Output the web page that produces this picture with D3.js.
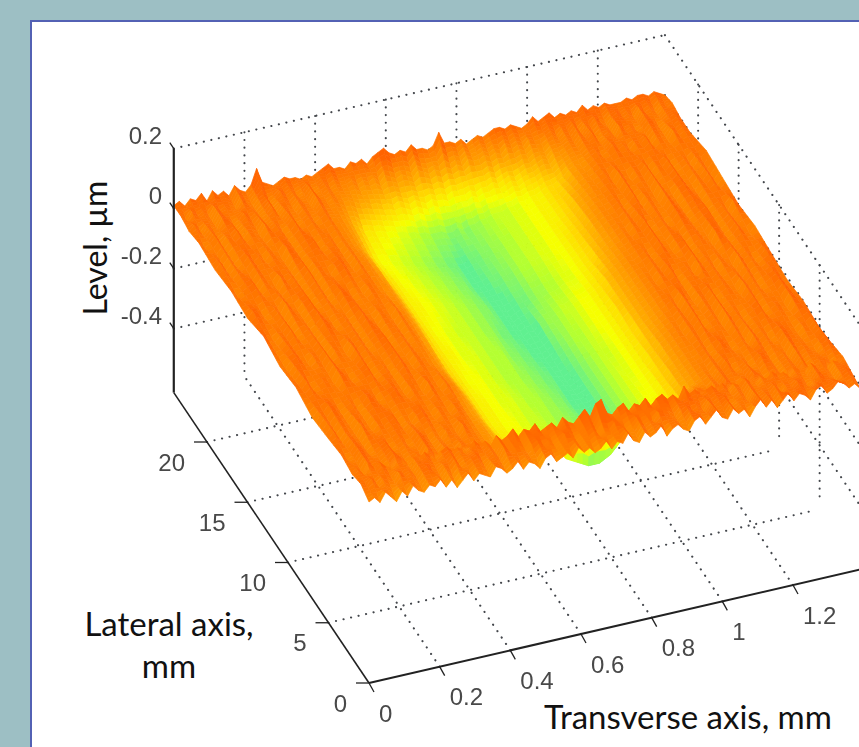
<!DOCTYPE html>
<html><head><meta charset="utf-8">
<script src="https://cdn.jsdelivr.net/npm/d3@7"></script>
<style>html,body{margin:0;padding:0;background:#9dbfc4;overflow:hidden}svg{display:block}</style>
</head><body><svg id="c" width="859" height="747"></svg>
<script>
const transverseTicks = [0, 0.2, 0.4, 0.6, 0.8, 1, 1.2];
const lateralTicks = [0, 5, 10, 15, 20];
const levelTicks = [0.2, 0, -0.2, -0.4];
const transverseMax = 1.39, lateralMax = 24.1, levelMin = -0.613, levelMax = 0.2;
const columnStep = 0.01562;
// lateral position of each measured profile, mm (back to front)
const profileLateral = [24.1,23.2,22.2,21,19,17,15,13,11,9,7,5,3.4,2.2,2.0,1.0,0];
// level of the surface, hundredths of a micrometre, 90 transverse samples per profile
const p00=[1,2,0,2,1,3,0,3,1,2,0,3,1,0,2,7,2,1,0,1,2,1,1,0,1,0,1,2,3,1,1,0,2,1,2,0,2,3,4,2,1,2,1,3,1,1,0,1,5,1,1,0,1,-1,0,1,0,1,2,2,1,2,1,0,1,3,1,2,3,1,2,1,2,1,3,1,2,1,2,1,1,1,2,1,2,2,1,2,1,0];
const p01=[1,-1,2,0,1,-1,2,0,1,0,-1,2,0,-1,1,2,-1,0,2,0,1,-1,0,2,-1,0,1,-1,0,-1,-1,0,-2,-1,-2,-1,-3,-1,-2,-3,-2,-3,-4,-2,-3,-4,-3,-4,-3,-4,-3,-4,-2,-3,-3,-2,-3,-2,-3,-1,-2,-1,-2,0,-1,-1,0,1,-1,1,0,2,-1,1,0,2,0,-1,1,2,0,1,-1,2,0,1,-1,1,0,1];
const p02=[0,2,-1,1,0,-1,2,1,-1,0,2,0,1,-1,0,2,-1,1,0,-1,1,0,-1,2,0,-1,0,-1,-2,-2,-3,-4,-4,-5,-5,-6,-6,-7,-6,-7,-8,-7,-8,-9,-8,-9,-9,-10,-9,-9,-9,-8,-9,-8,-8,-7,-8,-7,-6,-7,-6,-5,-5,-4,-3,-4,-2,-2,-1,0,-1,1,0,2,-1,0,1,-1,2,0,1,-1,0,2,1,-1,0,1,2,0];
const p03=[1,-1,0,2,-1,1,0,2,-1,1,0,-1,2,0,1,-1,0,2,-1,0,1,-1,0,1,-1,-1,-2,-3,-5,-6,-8,-8,-9,-9,-10,-10,-11,-11,-12,-12,-13,-13,-14,-14,-14,-15,-15,-14,-15,-14,-14,-13,-13,-12,-12,-12,-11,-11,-10,-10,-9,-9,-8,-7,-7,-6,-5,-3,-2,-2,-1,0,1,-1,0,2,0,1,-1,1,0,2,-1,1,0,-1,2,0,1,0];
const p04=[0,2,-1,1,-1,0,2,0,1,-1,1,0,-1,2,1,-1,0,1,2,-1,0,1,-1,0,-1,-2,-3,-5,-7,-9,-10,-10,-11,-11,-12,-12,-13,-13,-14,-14,-15,-15,-16,-16,-17,-17,-16,-16,-15,-15,-14,-14,-13,-13,-12,-12,-11,-11,-10,-10,-9,-9,-8,-7,-6,-4,-3,-2,-1,-1,0,1,-1,2,0,-1,1,0,2,-1,1,0,2,-1,0,1,-1,1,0,2];
const p05=[1,-1,0,1,2,-1,1,0,-1,2,0,1,-1,0,2,-1,1,0,-1,1,2,0,-1,1,-1,-1,-3,-4,-7,-8,-9,-10,-10,-11,-11,-12,-12,-13,-13,-14,-14,-15,-15,-16,-17,-17,-17,-16,-16,-15,-15,-14,-13,-13,-12,-12,-11,-11,-10,-10,-9,-8,-7,-6,-5,-3,-2,-1,-1,0,1,-1,0,2,-1,1,0,-1,2,0,-1,1,2,0,-1,1,0,2,-1,1];
const p06=[0,2,1,-1,0,1,-1,2,0,-1,1,2,-1,0,1,-1,0,2,1,-1,0,-1,1,0,-1,-2,-2,-4,-6,-8,-9,-9,-10,-10,-11,-11,-12,-12,-13,-13,-14,-14,-15,-15,-16,-17,-17,-18,-17,-16,-16,-15,-14,-14,-13,-13,-12,-11,-11,-10,-9,-8,-7,-5,-4,-3,-2,-1,0,-1,1,0,2,-1,0,1,-1,0,2,1,-1,0,1,2,-1,0,1,-1,2,0];
const p07=[2,0,-1,1,0,2,-1,0,1,-1,0,2,1,-1,0,1,-1,0,2,0,-1,1,0,-1,1,-1,-2,-4,-6,-8,-9,-10,-10,-11,-11,-12,-12,-12,-13,-13,-14,-14,-15,-16,-16,-17,-17,-18,-17,-17,-15,-14,-14,-13,-12,-12,-11,-10,-10,-9,-8,-7,-5,-4,-3,-2,-1,-1,0,1,-1,0,2,0,-1,1,2,-1,0,1,0,-1,2,1,-1,0,2,0,-1,1];
const p08=[0,-1,1,2,0,-1,1,0,2,-1,1,0,-1,2,0,1,-1,0,1,2,-1,0,1,-1,0,-1,-3,-4,-7,-8,-9,-9,-10,-11,-11,-11,-12,-12,-13,-13,-13,-14,-15,-15,-16,-16,-17,-17,-18,-17,-16,-15,-14,-13,-13,-12,-11,-10,-10,-9,-8,-6,-5,-4,-3,-2,-1,0,-1,1,0,2,-1,0,1,-1,2,0,1,-1,1,0,-1,2,0,1,-1,0,2,0];
const p09=[1,0,2,-1,0,1,0,-1,2,1,-1,0,1,2,-1,0,1,-1,0,2,0,-1,1,0,-1,-2,-3,-5,-7,-8,-9,-10,-10,-10,-11,-11,-12,-12,-13,-13,-13,-14,-14,-15,-15,-16,-16,-17,-17,-18,-17,-16,-15,-14,-13,-12,-12,-11,-10,-9,-8,-7,-5,-4,-3,-2,-1,0,1,-1,2,0,-1,1,0,2,-1,0,1,0,-1,2,0,1,-1,0,1,2,0,-1];
const p10=[-1,1,0,2,1,-1,0,1,-1,0,2,1,-1,0,1,2,0,-1,1,0,-1,2,0,-1,1,-1,-2,-4,-6,-8,-9,-9,-10,-10,-11,-11,-11,-12,-12,-13,-13,-13,-14,-14,-15,-15,-16,-17,-17,-17,-17,-16,-15,-14,-13,-12,-11,-11,-10,-9,-8,-6,-5,-3,-2,-1,0,-1,1,0,2,-1,0,1,-1,2,0,1,-1,0,1,2,-1,0,1,0,-1,2,1,0];
const p11=[0,2,-1,1,0,-1,2,0,-1,1,0,1,2,-1,0,-1,1,2,0,-1,1,0,-1,1,0,-2,-3,-4,-6,-8,-9,-9,-10,-10,-10,-11,-11,-12,-12,-12,-13,-13,-14,-14,-14,-15,-15,-16,-16,-17,-16,-16,-15,-14,-13,-12,-11,-10,-10,-9,-7,-6,-4,-3,-2,-1,-1,0,1,-1,0,2,1,-1,0,1,-1,2,0,1,-1,0,2,1,0,-1,1,0,2,-1];
const p12=[1,-1,0,2,1,-1,0,1,2,-1,0,1,-1,0,2,1,-1,0,-1,1,0,-1,2,0,-1,-2,-2,-4,-5,-7,-8,-8,-9,-9,-9,-10,-10,-10,-11,-11,-11,-12,-12,-12,-13,-13,-13,-13,-13,-13,-13,-13,-12,-12,-12,-11,-10,-10,-9,-8,-7,-5,-4,-3,-2,-1,0,-1,1,0,2,-1,0,1,-1,0,2,1,-1,0,1,-1,2,0,1,0,-1,1,2,0];
const p13=[0,1,-1,2,0,1,-1,0,2,1,-1,0,1,-1,2,0,-1,1,0,-1,1,0,-1,0,-1,-2,-3,-3,-4,-5,-6,-6,-6,-7,-7,-7,-8,-9,-10,-12,-13,-14,-15,-16,-16,-16,-15,-14,-12,-10,-8,-7,-7,-6,-6,-5,-4,-4,-3,-2,-1,-1,0,1,0,-1,1,0,2,0,-1,1,0,2,1,-1,0,1,-1,0,1,0,2,-1,0,1,1,-1,0,1];
const p14=[0,1,-1,1,0,2,0,-1,1,0,-1,1,0,2,0,-1,1,2,0,1,-1,0,2,0,1,-1,2,0,1,3,0,2,1,3,0,1,2,0,3,1,0,2,4,1,5,6,1,0,2,3,0,2,1,3,0,2,3,1,2,0,4,1,2,0,1,2,0,2,-1,1,0,2,0,-1,1,0,2,0,1,-1,1,0,-1,2,0,1,-1,1,0,1];
const p15=[1,0,2,-1,1,0,-1,2,0,1,-1,1,2,0,-1,1,0,2,-1,0,1,2,-1,0,1,-1,2,0,1,0,-1,1,2,0,1,-1,0,2,1,-1,0,1,2,-1,1,0,2,1,-1,0,2,0,1,-1,2,1,0,-1,1,2,0,1,-1,2,0,1,2,-1,0,1,-1,2,0,1,0,2,-1,1,0,2,1,-1,0,2,1,0,-1,1,2,0];
const p16=[-1,0,-2,1,-1,-3,0,-2,1,-1,-2,0,-1,1,-2,0,-3,-1,1,-2,0,-1,-2,1,0,-2,-1,1,-2,0,-1,-3,0,1,-2,-1,0,-2,1,-1,0,-2,-1,1,-2,0,-1,2,-1,-2,1,-1,0,2,-2,0,1,-1,-2,1,2,-1,1,3,0,-1,2,0,1,-2,1,3,0,2,-1,1,3,0,2,1,-1,2,3,0,1,3,2,0,1,-1];
const profiles = [p00,p01,p02,p03,p04,p05,p06,p07,p08,p09,p10,p11,p12,p13,p14,p15,p16];
const colourStops = [2, 0, -2, -4, -7, -10, -13, -17];
const colourValues = ["#ff6400","#ff7a00","#ff9200","#ffa800","#ffd800","#f6ff00","#b4ff30","#60f090"];

const svg = d3.select("#c");
const defs = svg.append("defs");
defs.append("filter").attr("id","soft").attr("x",0).attr("y",0).attr("width",859).attr("height",747)
  .attr("filterUnits","userSpaceOnUse").append("feGaussianBlur").attr("stdDeviation",0.7);
defs.append("filter").attr("id","softText").attr("x",0).attr("y",0).attr("width",859).attr("height",747)
  .attr("filterUnits","userSpaceOnUse").append("feGaussianBlur").attr("stdDeviation",0.45);

const xH = d3.scaleLinear().domain([0,1.2]).range([369,793]);
const xV = d3.scaleLinear().domain([0,1.2]).range([0,-98]);
const yH = d3.scaleLinear().domain([0,20]).range([0,-162]);
const yV = d3.scaleLinear().domain([0,20]).range([0,-241]);
const zV = d3.scaleLinear().domain([levelMin,levelMax]).range([683,439]);
const P = (x,y,z) => [xH(x)+yH(y), xV(x)+yV(y)+zV(z)];
const colour = d3.scaleLinear().domain(colourStops).range(colourValues).clamp(true);

svg.append("rect").attr("x",31).attr("y",21).attr("width",840).attr("height",740)
  .attr("fill","#fff").attr("stroke","#5361b4").attr("stroke-width",2);

const line = d3.line();
const grid = svg.append("g").attr("fill","none").attr("stroke","#44474c").attr("stroke-width",2.1)
  .attr("stroke-linecap","round").attr("stroke-dasharray","0.1 7.6");
const gridLines = [];
lateralTicks.slice(1).forEach(y=>gridLines.push([P(0,y,levelMin),P(transverseMax-0.01,y,levelMin)]));
transverseTicks.slice(1).forEach(x=>gridLines.push([P(x,0,levelMin),P(x,lateralMax,levelMin)]));
transverseTicks.slice(1).forEach(x=>gridLines.push([P(x,lateralMax,levelMax),P(x,lateralMax,levelMin)]));
[levelMax,...levelTicks.slice(1)].forEach(z=>gridLines.push([P(0,lateralMax,z),P(transverseMax,lateralMax,z)]));
lateralTicks.slice(1).forEach(y=>gridLines.push([P(transverseMax,y,levelMax),P(transverseMax,y,levelMin+0.02)]));
levelTicks.forEach(z=>gridLines.push([P(transverseMax,lateralMax,z),P(transverseMax,0,z)]));
grid.selectAll("path").data(gridLines).join("path").attr("d",d=>line(d));

// surface: painted from the back profile to the front one
const quads = [];
const sv = 5;
for (let r=0;r<profiles.length-1;r++){
  for (let v=0;v<sv;v++){
    const t0=v/sv, t1=(v+1)/sv;
    for (let c=0;c<profiles[r].length-1;c++){
      const Z=(cc,t)=>d3.interpolateNumber(profiles[r][cc],profiles[r+1][cc])(t);
      const Y=t=>d3.interpolateNumber(profileLateral[r],profileLateral[r+1])(t);
      const corners=[[c,t0],[c+1,t0],[c+1,t1],[c,t1]].map(([cc,t])=>P(cc*columnStep,Y(t),Z(cc,t)/100));
      const tone=(Z(c,t0)+Z(c,t1))/2;
      quads.push({corners,tone});
    }
  }
}
svg.append("g").attr("filter","url(#soft)").selectAll("path").data(quads).join("path")
  .attr("d",d=>line(d.corners)+"Z")
  .attr("fill",d=>colour(d.tone)).attr("stroke",d=>colour(d.tone)).attr("stroke-width",0.7);

const axes = svg.append("g").attr("fill","none").attr("stroke","#222");
axes.append("path").attr("stroke-width",2).attr("d",line([P(0,0,levelMin),P(transverseMax,0,levelMin)]));
axes.append("path").attr("stroke-width",1.6).attr("d",line([P(0,0,levelMin),P(0,lateralMax,levelMin)]));
axes.append("path").attr("stroke-width",2.2).attr("d",line([P(0,lateralMax,levelMin),P(0,lateralMax,levelMax)]));
axes.selectAll(".tx").data(transverseTicks).join("path").attr("class","tx").attr("stroke-width",1.3)
  .attr("d",d=>{const a=P(d,0,levelMin);return line([a,[a[0]+5,a[1]+9]]);});
axes.selectAll(".ty").data(lateralTicks).join("path").attr("class","ty").attr("stroke-width",1.3)
  .attr("d",d=>{const a=P(0,d,levelMin);return line([a,[a[0]-13,a[1]]]);});
axes.selectAll(".tz").data(levelTicks).join("path").attr("class","tz").attr("stroke-width",1.3)
  .attr("d",d=>{const a=P(0,lateralMax,d);return line([a,[a[0]-4,a[1]-6]]);});

const labels = svg.append("g").attr("filter","url(#softText)").attr("font-family","'Liberation Sans',Arial,sans-serif")
  .attr("font-size",24).attr("fill","#484848").attr("dominant-baseline","central");
labels.selectAll(".lx").data(transverseTicks).join("text").attr("class","lx").attr("text-anchor","start")
  .attr("x",d=>P(d,0,levelMin)[0]+10).attr("y",d=>P(d,0,levelMin)[1]+30).text(d=>String(d));
labels.selectAll(".ly").data(lateralTicks).join("text").attr("class","ly").attr("text-anchor","end")
  .attr("x",d=>P(0,d,levelMin)[0]-22).attr("y",d=>P(0,d,levelMin)[1]+20).text(d=>String(d));
labels.selectAll(".lz").data(levelTicks).join("text").attr("class","lz").attr("text-anchor","end")
  .attr("x",162).attr("y",d=>P(0,lateralMax,d)[1]-13).text(d=>String(d));

const titles = svg.append("g").attr("font-family","Lato,'Noto Sans',sans-serif").attr("font-size",33).attr("fill","#111")
  .attr("text-anchor","middle").attr("dominant-baseline","central");
titles.append("text").attr("transform","translate(94,248) rotate(-90)").attr("font-size",32).text("Level, µm");
titles.append("text").attr("x",169).attr("y",623).text("Lateral axis,");
titles.append("text").attr("x",169).attr("y",665).text("mm");
titles.append("text").attr("x",688).attr("y",716).text("Transverse axis, mm");
</script></body></html>
